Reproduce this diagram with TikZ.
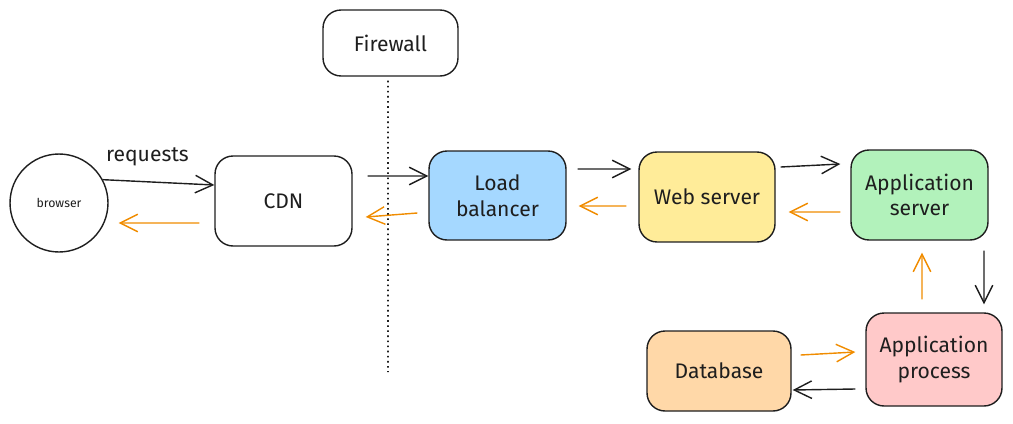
\documentclass[tikz,border=0pt]{standalone}
\usepackage{fontspec}
\setmainfont{Fira Sans}
\definecolor{tinta}{RGB}{30,30,30}
\definecolor{naranja}{RGB}{240,140,0}
\definecolor{azulc}{RGB}{165,216,255}
\definecolor{amarillo}{RGB}{255,236,153}
\definecolor{verdec}{RGB}{178,242,187}
\definecolor{rosa}{RGB}{255,201,201}
\definecolor{melon}{RGB}{255,216,168}
\usepackage{tikz}
\usetikzlibrary{arrows.meta,shapes,positioning,calc}

\begin{document}
\begin{tikzpicture}[x=0.02cm,y=-0.02cm,
    caja/.style={draw=tinta,line width=0.8pt,rounded corners=0.36cm,
      minimum width=2.74cm,minimum height=1.8cm,align=center,
      font=\fontsize{12}{14.5}\selectfont,text=tinta},
    ida/.style={-{Straight Barb[length=10pt,width=10pt]},line width=0.8pt,tinta},
    vuelta/.style={-{Straight Barb[length=10pt,width=10pt]},line width=0.8pt,naranja}]
      \useasboundingbox (0,0) rectangle (1013,423);

      % nodes
      \node[draw=tinta,line width=0.8pt,circle,minimum size=1.96cm,
        font=\fontsize{7}{8}\selectfont,text=tinta] (browser) at (59,203) {browser};
      \node[caja] (cdn) at (283.5,201) {CDN};
      \node[caja,minimum width=2.7cm,minimum height=1.32cm] (fw) at (390.5,43) {Firewall};
      \node[caja,fill=azulc,minimum height=1.78cm] (lb) at (497.5,195.5) {Load\\balancer};
      \node[caja,fill=amarillo,minimum width=2.72cm] (web) at (707,197) {Web server};
      \node[caja,fill=verdec] (appsrv) at (919.5,195) {Application\\server};
      \node[caja,fill=rosa,minimum width=2.72cm,minimum height=1.86cm] (appproc) at (934,359.5) {Application\\process};
      \node[caja,fill=melon,minimum width=2.88cm,minimum height=1.6cm] (db) at (719,371) {Database};

      % firewall line
      \coordinate (fwend) at (388,372);
      \draw[tinta,line width=0.9pt,dotted] ([xshift=-0.05cm,yshift=-0.08cm]fw.south) -- (fwend);

      % requests
      \draw[ida] (browser.28) -- ([yshift=0.32cm]cdn.west)
        node[pos=0.4,above=0.18cm,font=\fontsize{12}{14}\selectfont,text=tinta]{requests};
      \draw[vuelta] ([shift={(-0.3cm,-0.44cm)}]cdn.west) -- ([shift={(0.2cm,-0.4cm)}]browser.east);
      \draw[ida] ([shift={(0.3cm,0.5cm)}]cdn.east) -- ([yshift=0.39cm]lb.west);
      \draw[vuelta] ([shift={(-0.22cm,-0.35cm)}]lb.west) -- ([shift={(0.26cm,-0.32cm)}]cdn.east);
      \draw[ida] ([shift={(0.22cm,0.53cm)}]lb.east) -- ([shift={(-0.14cm,0.56cm)}]web.west);
      \draw[vuelta] ([shift={(-0.24cm,-0.18cm)}]web.west) -- ([shift={(0.24cm,-0.21cm)}]lb.east);
      \draw[ida] ([shift={(0.1cm,0.6cm)}]web.east) -- ([shift={(-0.2cm,0.62cm)}]appsrv.west);
      \draw[vuelta] ([shift={(-0.2cm,-0.34cm)}]appsrv.west) -- ([shift={(0.26cm,-0.3cm)}]web.east);
      \draw[ida] ([shift={(1.29cm,-0.2cm)}]appsrv.south) -- ([shift={(1.0cm,0.16cm)}]appproc.north);
      \draw[vuelta] ([shift={(-0.24cm,0.26cm)}]appproc.north) -- ([shift={(0.05cm,-0.24cm)}]appsrv.south);
      \draw[vuelta] ([shift={(0.18cm,0.32cm)}]db.east) -- ([shift={(-0.2cm,0.15cm)}]appproc.west);
      \draw[ida] ([shift={(-0.2cm,-0.59cm)}]appproc.west) -- ([shift={(0.02cm,-0.38cm)}]db.east);
    \end{tikzpicture}
\end{document}
